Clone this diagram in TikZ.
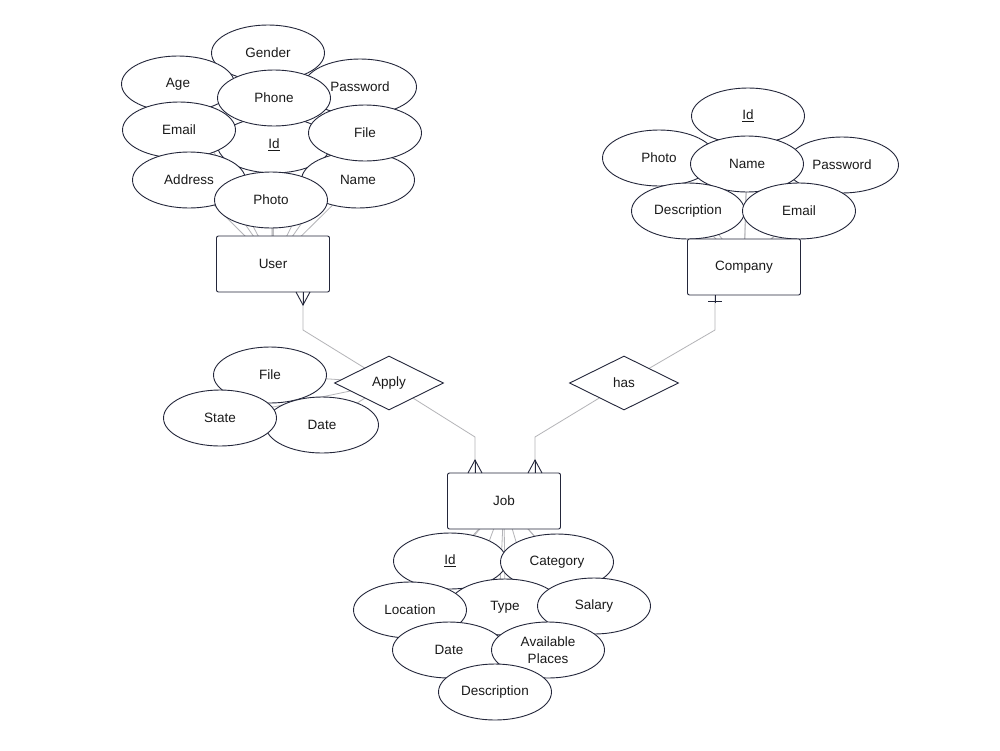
\documentclass[tikz,border=0pt]{standalone}
\usepackage{fontspec}
\setmainfont{Liberation Sans}
\usetikzlibrary{shapes.geometric,backgrounds,calc}
\definecolor{edge}{HTML}{23263A}
\definecolor{linegray}{HTML}{B4B4B8}
\definecolor{txt}{HTML}{1A1A1A}
\begin{document}
\begin{tikzpicture}[x=1pt,y=-1pt,
  lbl/.style={font=\fontsize{13.5}{16}\selectfont, text=txt},
  attr/.style={lbl, ellipse, draw=edge, fill=white, line width=0.9pt, minimum width=113pt, minimum height=56pt, inner sep=0pt, align=center},
  ent/.style={lbl, rectangle, rounded corners=2pt, draw=edge, fill=white, line width=0.9pt, minimum width=113pt, minimum height=56pt, inner sep=0pt},
  rel/.style={lbl, diamond, draw=edge, fill=white, line width=0.9pt, minimum width=109pt, minimum height=54pt, inner sep=0pt},
  conn/.style={draw=linegray, line width=0.8pt},
  foot/.style={draw=edge, line width=0.9pt},
]
\begin{pgfonlayer}{background}
\fill[white] (0,0) rectangle (1000,750);
\end{pgfonlayer}
\useasboundingbox (0,0) rectangle (1000,750);

% ---------- User attributes ----------
\node[attr] (uGender) at (268,53) {Gender};
\node[attr] (uAge) at (178,84) {Age};
\node[attr] (uPassword) at (360,87) {Password};
\node[attr] (uId) at (274,145) {\underline{Id}};
\node[attr] (uEmail) at (179,130) {Email};
\node[attr] (uPhone) at (274,98) {Phone};
\node[attr] (uAddress) at (189,180) {Address};
\node[attr] (uName) at (358,180) {Name};
\node[attr] (uFile) at (365,133) {File};
\node[attr] (uPhoto) at (271,200) {Photo};
\node[ent] (User) at (273,264) {User};

% ---------- Company attributes ----------
\node[attr] (cId) at (748,116) {\underline{Id}};
\node[attr] (cPhoto) at (659,158) {Photo};
\node[attr] (cPassword) at (842,165) {Password};
\node[attr] (cName) at (747,164) {Name};
\node[attr] (cDescription) at (688,211) {Description};
\node[attr] (cEmail) at (799,211) {Email};
\node[ent] (Company) at (744,267) {Company};

% ---------- Relationships ----------
\node[rel] (Apply) at (389,383) {Apply};
\node[rel] (has) at (624,383) {has};

% ---------- Apply attributes ----------
\node[attr] (aFile) at (270,375) {File};
\node[attr] (aDate) at (322,425) {Date};
\node[attr] (aState) at (220,418) {State};

% ---------- Job ----------
\node[ent] (Job) at (504,501) {Job};
\node[attr] (jId) at (450,561) {\underline{Id}};
\node[attr] (jCategory) at (557,562) {Category};
\node[attr] (jType) at (505,607) {Type};
\node[attr] (jLocation) at (410,610) {Location};
\node[attr] (jSalary) at (594,606) {Salary};
\node[attr] (jDate) at (449,650) {Date};
\node[attr] (jAvail) at (548,650) {Available\\[1pt]Places};
\node[attr] (jDescription) at (495,692) {Description};

% ---------- connection points ----------
\coordinate (uFoot) at (303,292);
\coordinate (cFoot) at (715,295);
\coordinate (jLeft) at (475,473);
\coordinate (jRight) at (535,473);

% ---------- connectors (behind) ----------
\begin{pgfonlayer}{background}
\foreach \a in {uGender,uAge,uPassword,uId,uEmail,uPhone,uAddress,uName,uFile,uPhoto}
  \draw[conn] (\a.center) -- (User.center);
\foreach \a in {cId,cPhoto,cPassword,cName,cDescription,cEmail}
  \draw[conn] (\a.center) -- (Company.center);
\foreach \a in {jId,jCategory,jType,jLocation,jSalary,jDate,jAvail,jDescription}
  \draw[conn] (\a.center) -- (Job.center);
\foreach \a in {aFile,aDate,aState}
  \draw[conn] (\a.center) -- (Apply.center);
\draw[conn] (uFoot) -- ++(0,38) -- (Apply.center) -- ($(jLeft)+(0,-36)$) -- (jLeft);
\draw[conn] (cFoot) -- ++(0,35) -- (has.center) -- ($(jRight)+(0,-36)$) -- (jRight);
\end{pgfonlayer}

% ---------- cardinality marks ----------
\draw[foot] ($(uFoot)+(-7,0)$) -- ($(uFoot)+(0,13)$) -- ($(uFoot)+(7,0)$);
\draw[foot] (uFoot) -- ++(0,13);
\draw[foot] ($(jLeft)+(-7,0)$) -- ($(jLeft)+(0,-13)$) -- ($(jLeft)+(7,0)$);
\draw[foot] (jLeft) -- ++(0,-13);
\draw[foot] ($(jRight)+(-7,0)$) -- ($(jRight)+(0,-13)$) -- ($(jRight)+(7,0)$);
\draw[foot] (jRight) -- ++(0,-13);
\draw[foot] ($(cFoot)+(-7,6)$) -- ($(cFoot)+(7,6)$);
\draw[foot] (cFoot) -- ++(0,8);
\end{tikzpicture}
\end{document}
